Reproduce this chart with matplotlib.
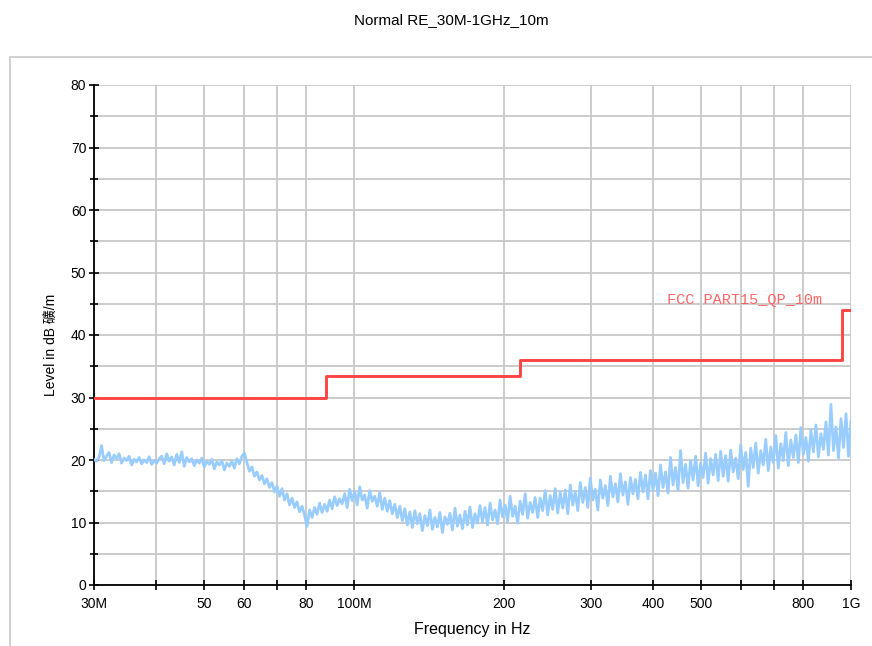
import numpy as np
import matplotlib
matplotlib.use('Agg')
import matplotlib.pyplot as plt
from matplotlib.patches import Rectangle

# limit line (FCC Part 15 QP, 10 m)
limit_freq = [30e6, 88e6, 216e6, 960e6, 1e9]
limit_level = [30.0, 33.5, 36.0, 44.0, 44.0]

level = [
    20.1, 19.8, 20.4, 22.3, 19.9, 20.6, 21.2, 19.6, 20.8, 20.2, 21.0, 19.5, 20.3, 19.9, 20.6, 19.2, 20.1, 19.7, 20.4, 19.4, 20.0, 19.6, 20.5, 19.3, 19.9, 19.5, 20.2,
    20.6, 19.4, 21.0, 19.8, 20.5, 19.2, 20.9, 19.6, 21.3, 19.0, 20.4, 19.7, 20.2, 19.1, 20.0, 19.5, 20.3, 18.9, 19.8, 19.3, 20.1, 18.6, 19.7, 19.2, 19.9, 18.4, 19.5, 19.0, 19.8, 18.7, 20.2, 19.4, 20.6, 21.1,
    19.6, 18.2, 18.9, 17.4, 18.1, 16.8, 17.5, 16.2, 17.0, 15.6, 16.4, 14.9, 15.8, 14.2, 15.4, 13.6, 14.6, 12.8, 13.9, 12.4, 13.3, 11.7,
    12.6, 11.2, 9.4, 12.0, 10.8, 12.4, 11.3, 13.1, 11.6, 12.9, 11.8, 13.6, 12.2, 14.1, 12.7, 13.8,
    13.0, 14.6, 12.4, 15.3, 13.5, 14.9, 12.8, 15.7, 13.6, 14.4, 12.3, 15.1, 13.4, 14.2, 12.6, 14.8, 12.1, 13.9, 11.8, 13.5, 11.4, 12.9, 10.8, 12.6,
    10.3, 12.2, 9.6, 11.7, 9.2, 11.9, 9.8, 11.4, 8.7, 11.1, 9.5, 12.0, 8.9, 10.8, 9.3, 11.6, 8.4, 10.9, 9.7, 11.5, 8.8, 12.3, 9.4, 11.2, 9.0, 11.8, 9.6, 12.5, 9.2, 11.4, 9.9, 12.7,
    10.1, 12.4, 9.6, 13.1, 10.4, 12.0, 9.8, 13.6, 10.9, 12.8, 10.2, 14.2, 11.0, 12.6, 9.9, 13.4, 11.3, 14.6, 10.7, 13.2, 11.6, 14.0, 10.8, 13.9, 11.9, 15.1, 11.2, 14.3, 12.1, 15.4, 11.5, 14.8,
    12.3, 15.2, 11.4, 16.0, 12.8, 14.9, 11.9, 16.4, 13.2, 15.6, 12.4, 17.1, 13.6, 15.3, 12.0, 16.8, 13.9, 15.9, 12.7, 17.4, 14.1, 16.2, 13.3, 17.8, 14.4, 16.5, 12.9, 17.2, 14.6, 16.9, 13.8, 18.0,
    14.9, 17.6, 13.8, 18.3, 15.2, 17.9, 14.3, 19.2, 15.6, 18.1, 14.7, 20.4, 16.0, 18.8, 15.1, 21.5, 16.4, 19.3, 15.5, 19.9, 16.8, 20.6, 15.9, 19.5, 17.2, 21.1, 16.3, 20.2, 17.6, 20.9, 16.7, 21.4,
    17.4, 20.7, 16.6, 21.6, 18.1, 20.3, 17.0, 22.4, 18.5, 21.2, 15.8, 21.9, 18.8, 22.7, 17.9, 21.5, 19.2, 23.3, 18.3, 22.1, 19.6, 23.9, 18.7, 22.6, 19.9, 24.4, 19.1, 23.2,
    20.4, 24.0, 19.6, 25.2, 20.9, 23.6, 19.8, 24.8, 21.3, 25.6, 20.5, 24.2, 21.7, 26.1, 20.8, 28.9, 21.5, 25.3, 20.3, 26.6, 22.0, 27.4, 20.6, 26.2,
]
freq = np.geomspace(30e6, 1e9, len(level))

xtick_pos = [30e6, 40e6, 50e6, 60e6, 70e6, 80e6, 100e6, 200e6, 300e6, 400e6,
             500e6, 600e6, 700e6, 800e6, 1e9]
xtick_lbl = ['30M', '', '50', '60', '', '80', '100M', '200', '300', '400',
             '500', '', '', '800', '1G']

plt.rcParams['font.family'] = ['Liberation Sans', 'Noto Sans CJK SC']

fig = plt.figure(figsize=(8.72, 6.46), dpi=100)
ax = fig.add_axes([94 / 872, 61 / 646, 757 / 872, 500 / 646])

# outer frame
fig.patches.append(Rectangle((10 / 872, -0.05), 1.0, 1.05 - 57 / 646,
                             transform=fig.transFigure, fill=False,
                             edgecolor='#c8c8c8', linewidth=1.2))

ax.plot(freq, level, color='#99ccff', linewidth=2.0, zorder=3)
ax.step(limit_freq, limit_level, where='post', color='#ff4444',
        linewidth=2.1, zorder=4)
ax.text(426e6, 45.6, 'FCC PART15_QP_10m', color='#ff6666',
        family='Liberation Mono', fontsize=11, va='center', ha='left')

ax.set_xscale('log')
ax.set_xlim(30e6, 1e9)
ax.set_ylim(0, 80)
ax.xaxis.set_minor_locator(matplotlib.ticker.NullLocator())
ax.set_xticks(xtick_pos)
ax.set_xticklabels(xtick_lbl)
ax.set_yticks(range(0, 81, 10))
ax.set_yticks(range(0, 81, 5), minor=True)

ax.grid(True, which='both', color='#c8c8c8', linewidth=1.3, zorder=0)
ax.set_axisbelow(True)
for side in ['top', 'right']:
    ax.spines[side].set_visible(False)
for side in ['left', 'bottom']:
    ax.spines[side].set_linewidth(1.3)

ax.tick_params(which='major', direction='inout', length=7, width=1.2,
               labelsize=10, pad=2)
ax.tick_params(which='minor', direction='inout', length=6, width=1.2)
ax.tick_params(axis='x', pad=5)

ax.set_xlabel('Frequency in Hz', fontsize=11.5, labelpad=8)
ax.set_ylabel('Level in dB 礦/m', fontsize=10)
ax.yaxis.set_label_coords(-0.048, 0.48)
fig.text(0.517, 0.969, 'Normal RE_30M-1GHz_10m', ha='center', va='center',
         fontsize=11)

fig.savefig('out.png', dpi=100)
